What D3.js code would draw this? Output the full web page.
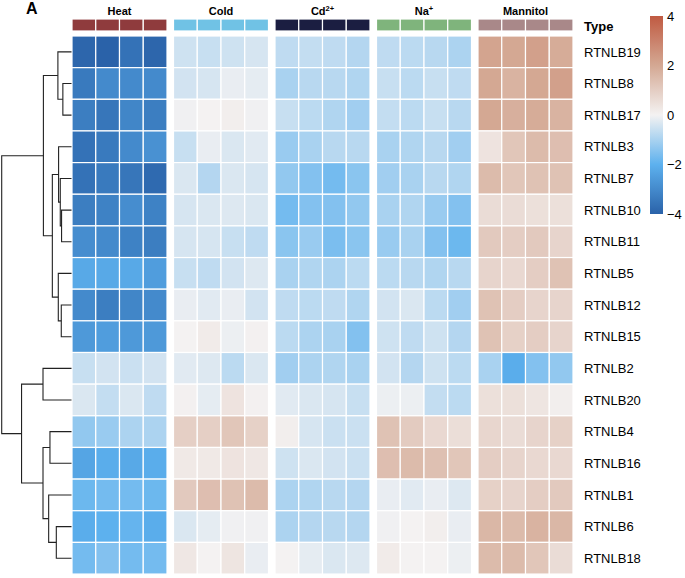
<!DOCTYPE html>
<html>
<head>
<meta charset="utf-8">
<script src="https://cdn.jsdelivr.net/npm/d3@7"></script>
<style>
  body { margin: 0; background: #fff; }
  text { font-family: "Liberation Sans", Arial, sans-serif; }
</style>
</head>
<body>
<script>
var genes = ["RTNLB19", "RTNLB8", "RTNLB17", "RTNLB3", "RTNLB7", "RTNLB10", "RTNLB11",
  "RTNLB5", "RTNLB12", "RTNLB15", "RTNLB2", "RTNLB20", "RTNLB4", "RTNLB16",
  "RTNLB1", "RTNLB6", "RTNLB18"];

var groups = ["Heat", "Cold", "Cd", "Na", "Mannitol"];
var groupColors = ["#8f3b3d", "#70c2e5", "#1b1e41", "#7fb47c", "#a98889"];
var reps = [1, 2, 3, 4];

// values per treatment, one row per gene, 4 replicates
var heat = [
  [-3.9, -4.0, -3.6, -3.9], [-3.4, -3.0, -3.0, -3.0], [-3.3, -3.5, -3.1, -3.3],
  [-3.6, -3.4, -3.0, -2.8], [-3.6, -3.4, -3.5, -3.8], [-3.3, -3.2, -2.9, -3.2],
  [-2.9, -3.0, -3.2, -3.3], [-2.2, -2.2, -2.2, -2.5], [-3.0, -3.3, -3.1, -3.0],
  [-2.6, -2.5, -2.6, -2.6], [-0.6, -0.45, -0.55, -0.45], [-0.35, -0.65, -0.35, -0.7],
  [-1.3, -1.2, -0.95, -0.95], [-2.3, -2.1, -2.2, -2.1], [-1.8, -1.7, -1.7, -1.8],
  [-2.1, -2.0, -1.9, -2.1], [-1.7, -1.5, -1.7, -1.7]
];
var cold = [
  [-0.5, -0.6, -0.5, -0.4], [-0.45, -0.4, -0.15, -0.2], [-0.05, 0.0, 0.1, -0.05],
  [-0.6, -0.15, -0.35, -0.25], [-0.35, -0.85, -0.35, -0.4], [-0.4, -0.35, -0.3, -0.35],
  [-0.4, -0.4, -0.6, -0.7], [-0.6, -0.7, -0.45, -0.3], [-0.15, -0.25, -0.15, -0.45],
  [0.0, 0.2, -0.1, 0.05], [-0.25, -0.3, -0.75, -0.35], [0.05, -0.2, 0.4, 0.05],
  [0.95, 0.95, 1.2, 0.9], [0.25, 0.25, 0.4, 0.3], [1.1, 1.4, 1.3, 1.5],
  [-0.35, -0.2, -0.05, -0.05], [0.3, 0.0, 0.35, -0.15]
];
var cd = [
  [-0.7, -0.65, -0.7, -0.85], [-1.0, -0.8, -0.8, -0.9], [-0.6, -0.75, -0.9, -1.1],
  [-1.2, -1.0, -0.8, -0.8], [-1.3, -1.5, -1.7, -1.4], [-1.7, -1.5, -1.5, -1.3],
  [-1.4, -1.2, -1.6, -1.4], [-1.0, -0.9, -0.95, -0.75], [-0.7, -0.75, -0.7, -0.9],
  [-0.75, -0.95, -1.0, -1.5], [-1.1, -0.95, -0.9, -1.0], [-0.25, -0.35, -0.4, -0.6],
  [0.1, -0.4, -0.55, -0.55], [-0.5, -0.35, -0.45, -0.55], [-0.95, -0.9, -0.8, -0.85],
  [-0.95, -0.85, -0.8, -0.85], [0.0, -0.2, -0.35, -0.3]
];
var na = [
  [-0.7, -0.75, -0.8, -0.95], [-0.6, -0.75, -0.6, -0.7], [-0.65, -0.75, -0.6, -0.8],
  [-1.0, -0.9, -0.8, -1.1], [-1.1, -1.0, -0.8, -0.9], [-1.0, -0.9, -1.2, -1.5],
  [-1.2, -1.0, -1.5, -1.8], [-0.75, -0.8, -0.9, -0.8], [-0.45, -0.35, -0.75, -1.1],
  [-0.5, -0.7, -0.5, -0.85], [-0.45, -0.85, -0.5, -0.75], [-0.1, -0.1, -0.65, -0.75],
  [1.3, 1.05, 0.7, 0.55], [1.4, 1.5, 1.35, 1.2], [-0.15, -0.25, -0.15, -0.3],
  [-0.05, 0.0, 0.1, -0.15], [0.2, 0.0, 0.0, -0.1]
];
var mannitol = [
  [2.1, 2.0, 2.2, 1.9], [2.0, 1.7, 2.0, 2.2], [2.0, 1.8, 1.9, 1.7],
  [0.4, 1.2, 1.5, 1.4], [1.5, 1.2, 1.3, 1.3], [0.6, 0.6, 0.5, 0.5],
  [1.1, 1.0, 1.1, 0.8], [0.8, 0.7, 1.0, 1.3], [1.3, 1.0, 0.8, 0.8],
  [1.3, 0.9, 1.0, 0.8], [-1.0, -2.1, -1.5, -1.3], [0.5, 0.5, 0.35, 0.1],
  [0.75, 0.6, 0.8, 0.9], [1.0, 0.8, 0.7, 0.7], [0.9, 0.8, 1.0, 1.1],
  [1.6, 1.5, 1.7, 1.6], [1.5, 1.5, 1.2, 0.6]
];
var byGroup = [heat, cold, cd, na, mannitol];

var legendTicks = [4, 2, 0, -2, -4];

// row dendrogram: leaves are row indexes, h is merge height
var tree = {h: 70.3, c: [
  {h: 28.3, c: [
    {h: 13.7, c: [0, {h: 8.7, c: [1, 2]}]},
    {h: 19.3, c: [
      {h: 13, c: [3, {h: 11.3, c: [4, {h: 10, c: [5, 6]}]}]},
      {h: 13.3, c: [7, {h: 10.3, c: [8, 9]}]}
    ]}
  ]},
  {h: 50.3, c: [
    {h: 28.7, c: [10, 11]},
    {h: 28.7, c: [
      {h: 21.7, c: [12, 13]},
      {h: 23, c: [14, {h: 15.3, c: [15, 16]}]}
    ]}
  ]}
]};

var svg = d3.select("body").append("svg")
  .attr("width", 685)
  .attr("height", 578);

var topY = 36, rowH = 31.65, left = 72, groupW = 95, gap = 6.5;

var y = d3.scaleBand().domain(d3.range(genes.length)).range([topY, topY + rowH * genes.length]);
var gx = d3.scaleOrdinal().domain(groups).range(groups.map(function(g, i) { return left + i * (groupW + gap); }));
var cx = d3.scaleBand().domain(reps).range([0, groupW]);

var color = d3.scaleLinear()
  .domain([-4, -2, 0, 2, 4])
  .range(["#2a62a9", "#5db1ee", "#f4f2f2", "#d4a893", "#c05a42"])
  .clamp(true);

// cells
groups.forEach(function(g, gi) {
  var grp = svg.append("g").attr("transform", "translate(" + gx(g) + ",0)");
  byGroup[gi].forEach(function(row, ri) {
    grp.selectAll(null)
      .data(row)
      .enter()
      .append("rect")
      .attr("x", function(d, i) { return cx(reps[i]); })
      .attr("y", y(ri))
      .attr("width", cx.bandwidth())
      .attr("height", y.bandwidth())
      .attr("fill", function(d) { return color(d); })
      .attr("stroke", "white")
      .attr("stroke-width", 1.2);
  });

  // annotation bar
  grp.selectAll(null)
    .data(reps)
    .enter()
    .append("rect")
    .attr("x", function(d) { return cx(d); })
    .attr("y", 19)
    .attr("width", cx.bandwidth())
    .attr("height", 12)
    .attr("fill", groupColors[gi])
    .attr("stroke", "white")
    .attr("stroke-width", 1.2);

  var t = grp.append("text")
    .attr("x", groupW / 2)
    .attr("y", 15)
    .attr("text-anchor", "middle")
    .style("font-size", "11px")
    .style("font-weight", "bold")
    .text(g);
  if (g === "Cd") {
    t.append("tspan").attr("dy", -4).style("font-size", "7.5px").text("2+");
  } else if (g === "Na") {
    t.append("tspan").attr("dy", -4).style("font-size", "7.5px").text("+");
  }
});

// row labels
svg.selectAll(".rowlab")
  .data(genes)
  .enter()
  .append("text")
  .attr("class", "rowlab")
  .attr("x", 584)
  .attr("y", function(d, i) { return y(i) + y.bandwidth() / 2; })
  .attr("dy", "0.36em")
  .style("font-size", "13px")
  .text(function(d) { return d; });

svg.append("text")
  .attr("x", 584)
  .attr("y", 31)
  .style("font-size", "13px")
  .style("font-weight", "bold")
  .text("Type");

svg.append("text")
  .attr("x", 26)
  .attr("y", 14)
  .style("font-size", "16px")
  .style("font-weight", "bold")
  .text("A");

// dendrogram
var hx = d3.scaleLinear().domain([0, 70.3]).range([left - 0.5, 1.7]);
var dend = svg.append("g")
  .attr("fill", "none")
  .attr("stroke", "#222")
  .attr("stroke-width", 1.1);

function layout(node) {
  if (typeof node === "number") {
    return {y: y(node) + y.bandwidth() / 2, x: hx(0)};
  }
  var a = layout(node.c[0]), b = layout(node.c[1]);
  var x = hx(node.h);
  dend.append("path")
    .attr("d", "M" + a.x + "," + a.y + "H" + x + "V" + b.y + "H" + b.x);
  return {y: (a.y + b.y) / 2, x: x};
}
layout(tree);

// legend
var lg = svg.append("g");
var defs = svg.append("defs");
var grad = defs.append("linearGradient")
  .attr("id", "lgrad")
  .attr("x1", 0).attr("y1", 1).attr("x2", 0).attr("y2", 0);
grad.selectAll("stop")
  .data(d3.range(-4, 4.01, 0.5))
  .enter()
  .append("stop")
  .attr("offset", function(d) { return (d + 4) / 8; })
  .attr("stop-color", function(d) { return color(d); });

var ly = d3.scaleLinear().domain([-4, 4]).range([214, 16]);
lg.append("rect")
  .attr("x", 650)
  .attr("y", ly(4))
  .attr("width", 13)
  .attr("height", ly(-4) - ly(4))
  .attr("fill", "url(#lgrad)");

lg.selectAll(".lt")
  .data(legendTicks)
  .enter()
  .append("text")
  .attr("class", "lt")
  .attr("x", 667)
  .attr("y", function(d) { return ly(d); })
  .attr("dy", "0.36em")
  .style("font-size", "13px")
  .text(function(d) { return d < 0 ? "\u2212" + Math.abs(d) : d; });
</script>
</body>
</html>
